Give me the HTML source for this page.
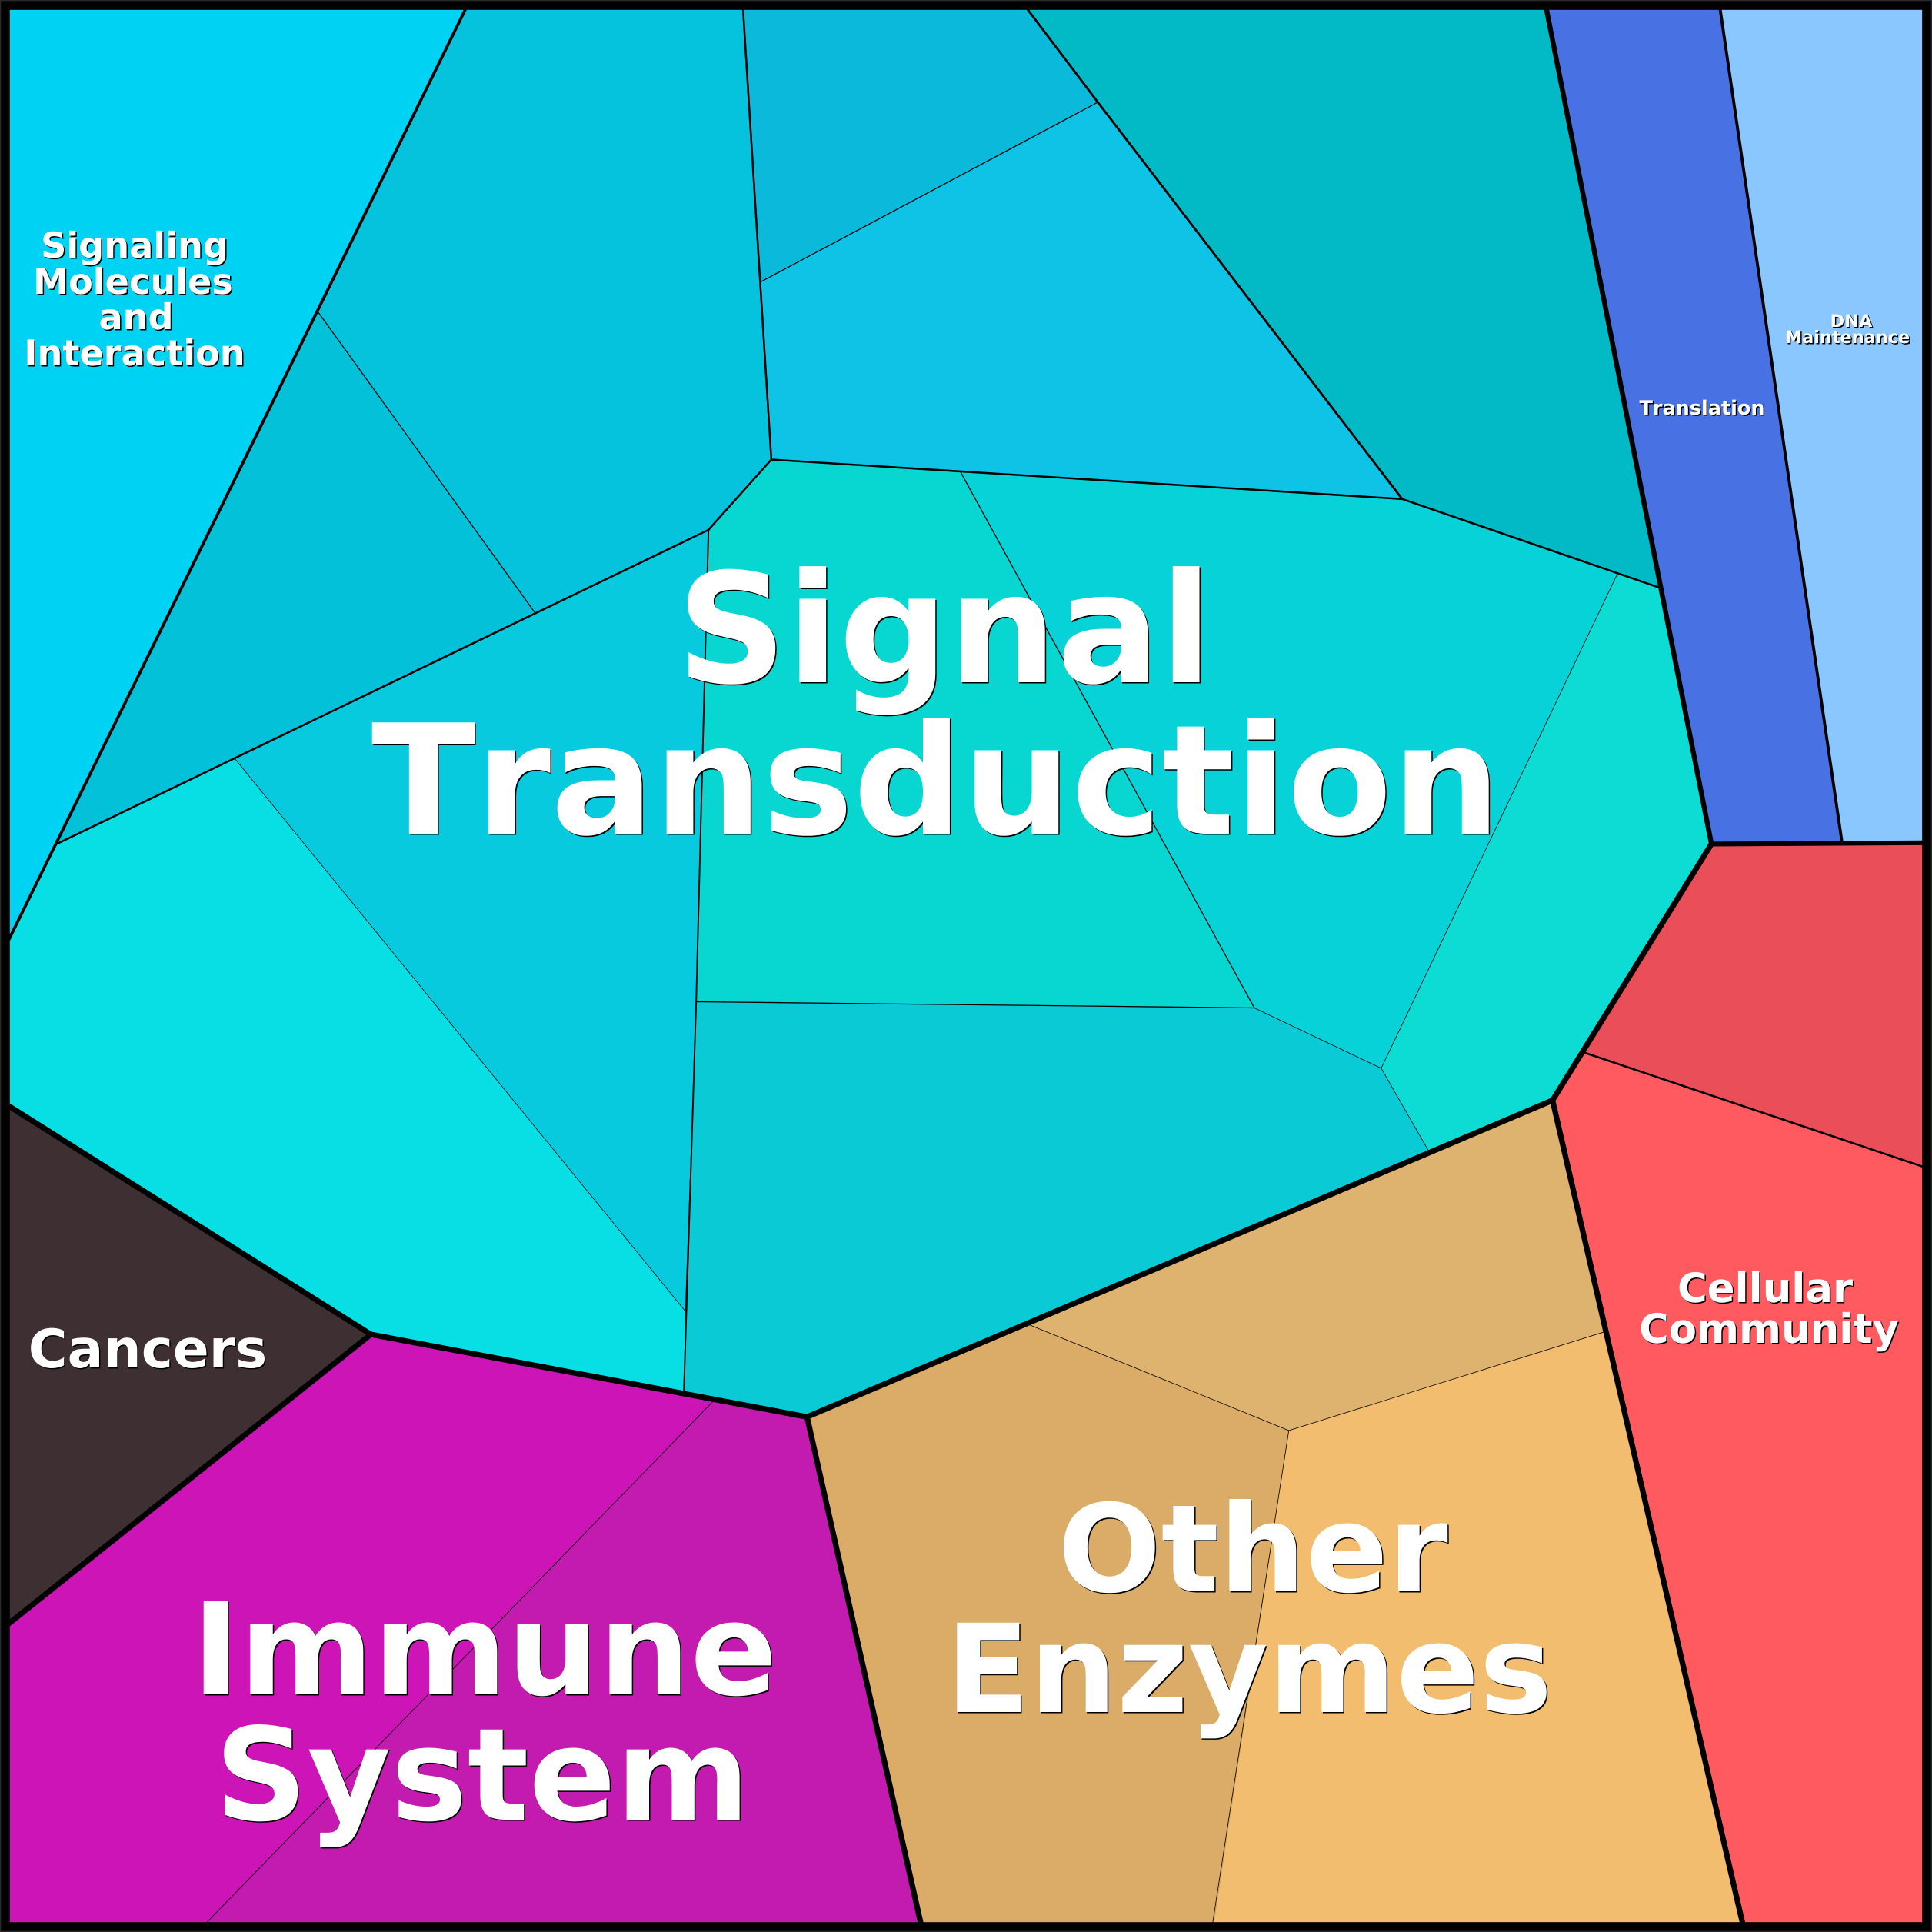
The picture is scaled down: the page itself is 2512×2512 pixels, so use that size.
<!DOCTYPE html>
<html><head><meta charset="utf-8"><style>
html,body{margin:0;padding:0;background:#000}
#c{position:relative;width:2512px;height:2512px;overflow:hidden}
svg{position:absolute;left:0;top:0}
.t{position:absolute;transform:translateX(-50%);white-space:nowrap;line-height:1;color:#fff;font-family:"DejaVu Sans","Liberation Sans",sans-serif;font-weight:bold;font-kerning:none;text-rendering:geometricPrecision;text-shadow:1.5px 1.5px 0 #000}
</style></head><body><div id="c">
<svg width="2512" height="2512" viewBox="0 0 1568 1568">
<rect width="1568" height="1568" fill="#000"/>
<g stroke="none">
<polygon fill="#00d2f3" points="0,0 381.4,0 0,778"/>
<polygon fill="#05c3dc" points="381.4,0 603,0 626,373 575,430 434,497 258,253"/>
<polygon fill="#02c1d9" points="258,253 434,497 46,685 0,778"/>
<polygon fill="#0bb9db" points="603,0 827.7,0 891,83 617,229"/>
<polygon fill="#0ec3e5" points="617,229 891,83 1138,405 626,373"/>
<polygon fill="#02bac5" points="827.7,0 1255,0 1347,477 1138,405"/>
<polygon fill="#08d6d0" points="626,373 779,382 1018,818 565,813 575,430"/>
<polygon fill="#07d2d7" points="779,382 1138,405 1313,465 1121,867 1018,818"/>
<polygon fill="#0ddcd5" points="1313,465 1347,477 1389,685 1260,893 1160,935 1121,867"/>
<polygon fill="#07cadf" points="575,430 565,813 556,1064 190,615 434,497"/>
<polygon fill="#08dfe5" points="190,615 556,1064 555,1130 301,1083 0,893 0,778 46,685"/>
<polygon fill="#0acbd5" points="565,813 1018,818 1121,867 1160,935 655,1150 555,1130"/>
<polygon fill="#cd14b6" points="301,1083 580,1136 161,1568 0,1568 0,1323"/>
<polygon fill="#c31aaf" points="580,1136 655,1150 748,1568 161,1568"/>
<polygon fill="#3e3032" points="0,893 301,1083 0,1323"/>
<polygon fill="#dbab68" points="655,1150 835,1075 1046,1161 984,1568 748,1568"/>
<polygon fill="#ddb36f" points="835,1075 1260,893 1302,1081 1046,1161"/>
<polygon fill="#f2bd6f" points="1046,1161 1302,1081 1415,1568 984,1568"/>
<polygon fill="#ff5a5f" points="1260,893 1285,854 1568,949 1568,1568 1415,1568"/>
<polygon fill="#ea4e58" points="1285,854 1389,685 1568,684 1568,949"/>
<polygon fill="#4872e4" points="1255,0 1396,0 1495,684 1389,685"/>
<polygon fill="#8ac6ff" points="1396,0 1568,0 1568,684 1495,684"/>
</g>
<g fill="none" stroke="#000" stroke-linejoin="round">
<path stroke-width=".5" d="M580,1136L166,1562M1046,1161L984,1562M190,615L556,1064M1313,465L1121,867M1018,818L1121,867L1160,935M835,1075L1046,1161L1302,1081"/>
<path stroke-width=".8" d="M258,253L434,497M617,229L891,83M779,382L1018,818M565,813L1018,818"/>
<path stroke-width="1.2" d="M575,430L565,813L555,1130"/>
<path stroke-width="1.6" d="M603,7L626,373L1138,405M1138,405L1347,477M626,373L575,430L46,685M1285,854L1561,947"/>
<path stroke-width="1.8" d="M833.5,7L891,83L1138,405"/>
<path stroke-width="2.4" d="M378,7L7,763M1396,7L1495,684"/>
<path stroke-width="3.8" d="M1389,685L1561,684"/>
<path stroke-width="4" d="M1255,7L1389,685"/>
<path stroke-width="4.5" d="M1389,685L1260,893L655,1150L301,1083L3,895M301,1083L3,1321M655,1150L748,1564M1260,893L1415,1564"/>
</g>
<rect x="4" y="4" width="1560" height="1560" fill="none" stroke="#000" stroke-width="8"/>
<rect x=".4" y=".4" width="1567.2" height="1567.2" fill="none" stroke="#2a2a2a" stroke-width=".8"/>
</svg>
<div class="t" style="left:1228px;top:720px;font-size:198.5px">Signal</div>
<div class="t" style="left:1217px;top:917px;font-size:198.5px">Transduction</div>
<div class="t" style="left:1629px;top:1936px;font-size:158px">Other</div>
<div class="t" style="left:1624px;top:2092px;font-size:159.5px">Enzymes</div>
<div class="t" style="left:630px;top:2063px;font-size:167px">Immune</div>
<div class="t" style="left:627px;top:2226px;font-size:167px">System</div>
<div class="t" style="left:2295px;top:1650px;font-size:52.8px">Cellular</div>
<div class="t" style="left:2300px;top:1703px;font-size:52.8px">Community</div>
<div class="t" style="left:192px;top:1720.5px;font-size:69.3px">Cancers</div>
<div class="t" style="left:175px;top:296px;font-size:46.2px">Signaling</div>
<div class="t" style="left:173px;top:343px;font-size:46.2px">Molecules</div>
<div class="t" style="left:177px;top:389px;font-size:46.2px">and</div>
<div class="t" style="left:175px;top:436px;font-size:46.2px">Interaction</div>
<div class="t" style="left:2213px;top:518.5px;font-size:25.5px">Translation</div>
<div class="t" style="left:2407px;top:406.5px;font-size:22.4px">DNA</div>
<div class="t" style="left:2402px;top:427.5px;font-size:22.4px">Maintenance</div>
</div></body></html>
